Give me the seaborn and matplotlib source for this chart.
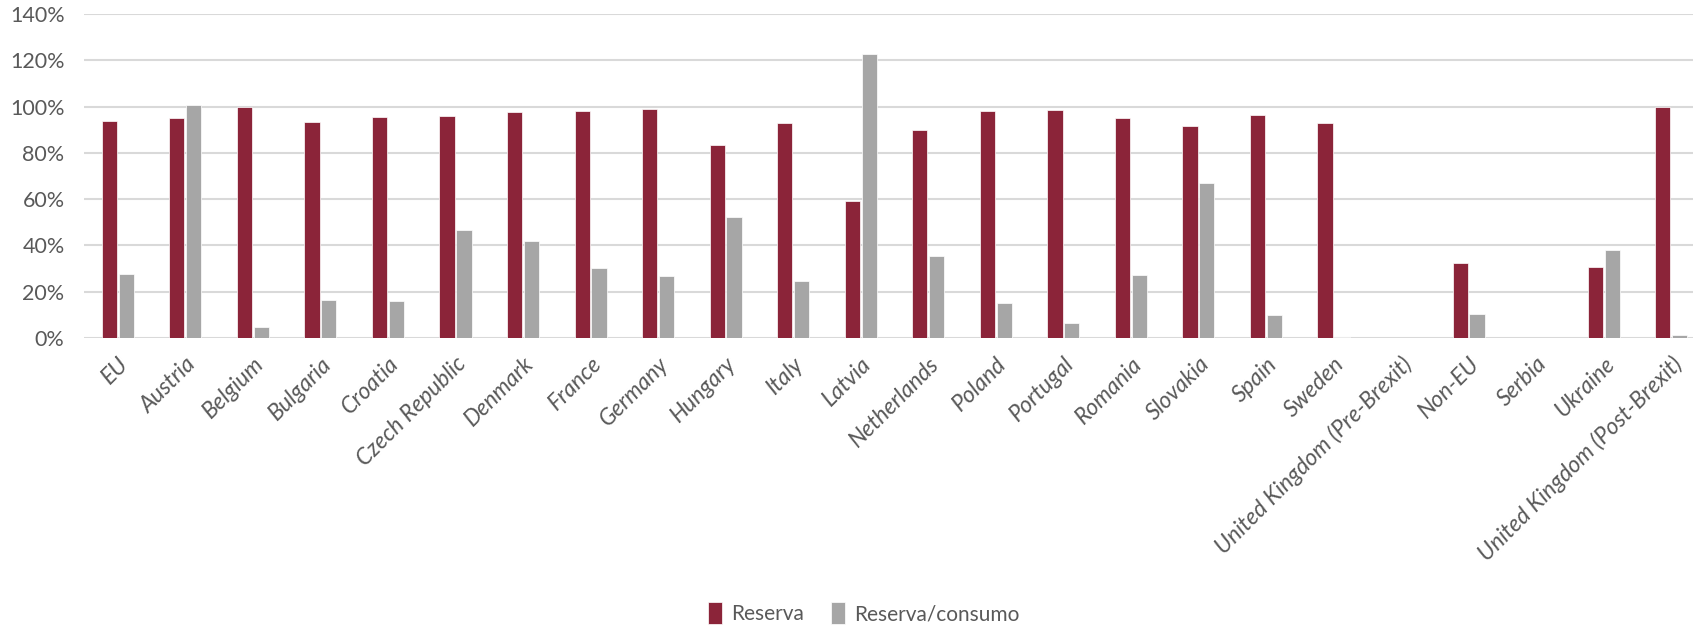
import pandas as pd
import numpy as np
import matplotlib
matplotlib.use('Agg')
import matplotlib.pyplot as plt
import seaborn as sns
from matplotlib.ticker import PercentFormatter

# Data
countries = ['EU', 'Austria', 'Belgium', 'Bulgaria', 'Croatia', 'Czech Republic',
             'Denmark', 'France', 'Germany', 'Hungary', 'Italy', 'Latvia',
             'Netherlands', 'Poland', 'Portugal', 'Romania', 'Slovakia', 'Spain',
             'Sweden', 'United Kingdom (Pre-Brexit)', 'Non-EU', 'Serbia', 'Ukraine',
             'United Kingdom (Post-Brexit)']
reserva = [93.8, 95.0, 100.0, 93.5, 95.5, 96.1, 97.8, 98.0, 98.8, 83.2, 92.7, 59.0,
           89.8, 98.3, 98.4, 95.0, 91.5, 96.5, 93.0, 0.0, 32.5, 0.0, 30.5, 100.0]
reserva_consumo = [27.6, 100.6, 4.6, 16.3, 16.0, 46.5, 42.0, 30.4, 26.8, 52.1, 24.6, 122.6,
                   35.4, 15.1, 6.5, 27.1, 66.8, 9.9, 0.4, 0.0, 10.5, 0.0, 38.0, 1.3]
series = ['Reserva', 'Reserva/consumo']

df = pd.DataFrame({
    'Country': countries * 2,
    'Series': [series[0]] * len(countries) + [series[1]] * len(countries),
    'Value': np.array(reserva + reserva_consumo) / 100,
})

sns.set_style('white')
plt.rcParams['font.family'] = ['Lato', 'DejaVu Sans']
text_color = '#595959'

fig = plt.figure(figsize=(16.93, 6.27), dpi=100)
ax = fig.add_axes([84 / 1693, 1 - 338 / 627, (1705 - 84) / 1693, (338 - 14) / 627])

sns.barplot(data=df, x='Country', y='Value', hue='Series', hue_order=series,
            palette=['#8B2439', '#A6A6A6'], saturation=1, width=0.5, gap=0.1,
            edgecolor='white', linewidth=0.5, ax=ax)

ax.set_ylim(0, 1.4)
ax.set_yticks(np.arange(0, 1.41, 0.2))
ax.yaxis.set_major_formatter(PercentFormatter(1.0, decimals=0))
ax.set_xlim(-0.5, len(countries) - 0.5)
ax.grid(axis='y', color='#D9D9D9', linewidth=1.5)
ax.set_axisbelow(True)
for s in ax.spines.values():
    s.set_visible(False)
ax.set_xlabel('')
ax.set_ylabel('')
ax.tick_params(axis='both', length=0, colors=text_color)
ax.tick_params(axis='y', pad=14, labelsize=15.5)
ax.tick_params(axis='x', pad=11, labelsize=16.5)
for lbl in ax.get_xticklabels():
    lbl.set_rotation(45)
    lbl.set_ha('right')
    lbl.set_rotation_mode('anchor')
    lbl.set_style('italic')

ax.legend_.remove()
handles, labels = ax.get_legend_handles_labels()
fig.legend(handles, labels, loc='center', bbox_to_anchor=(0.51, 0.022), ncol=2,
           frameon=False, fontsize=15, labelcolor=text_color, handlelength=0.7,
           handleheight=1.2, handletextpad=0.4, columnspacing=1.3)

plt.savefig('out.png', dpi=100)
